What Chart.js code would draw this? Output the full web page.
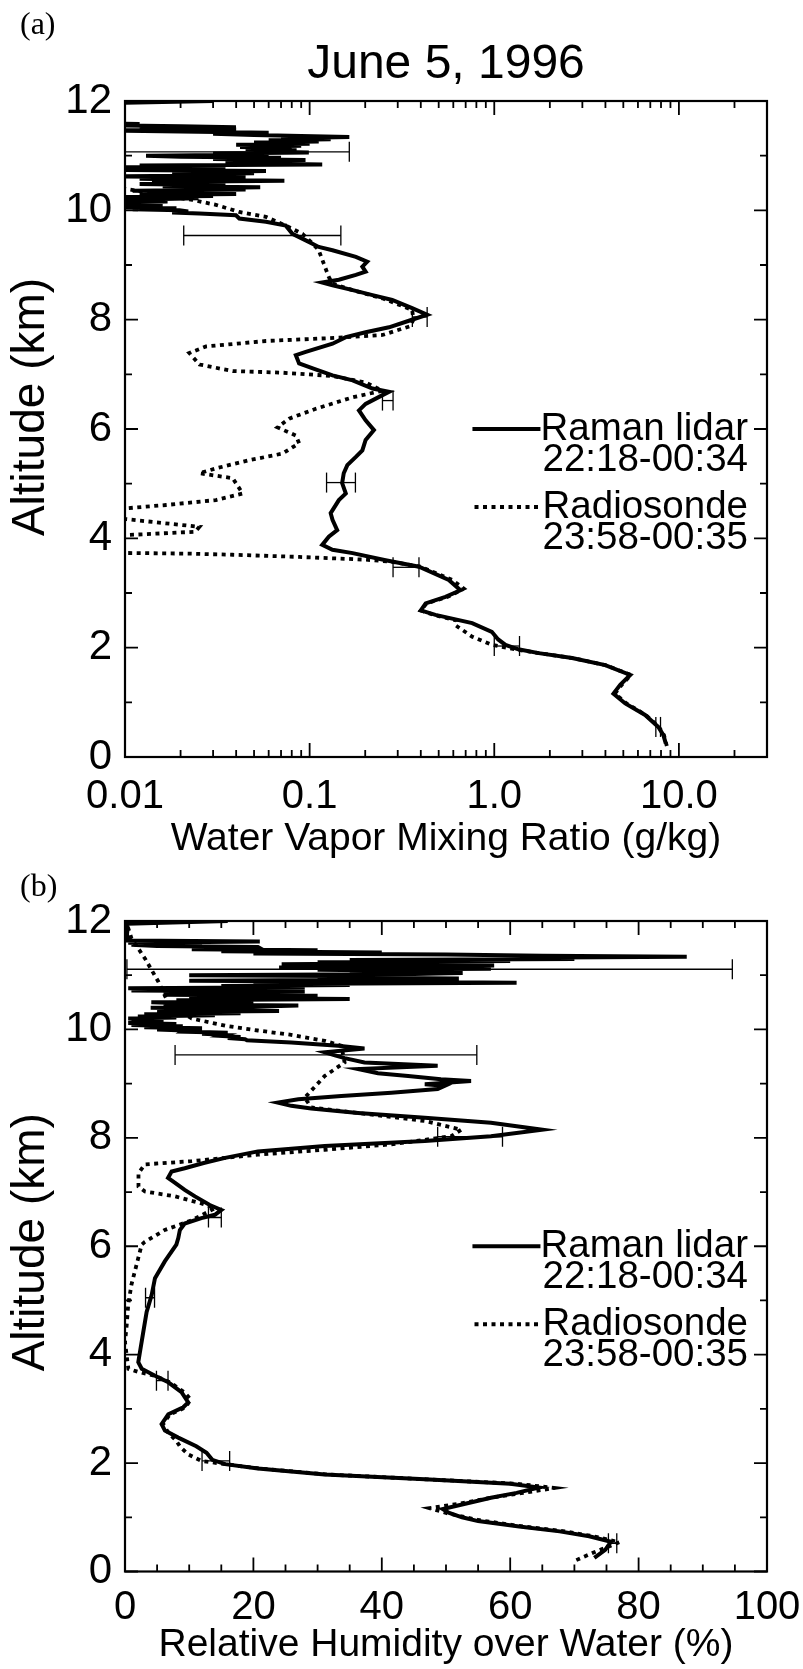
<!DOCTYPE html>
<html lang="en">
<head>
  <meta charset="UTF-8">
  <title>June 5, 1996</title>
  <script src="https://cdn.jsdelivr.net/npm/chart.js"></script>
  <style>
    body { margin: 0; background: #fff; }
    .painel { position: absolute; left: 0; }
  </style>
</head>
<body>
  <canvas id="graficoA" class="painel" width="803" height="863" style="top:0"></canvas>
  <canvas id="graficoB" class="painel" width="803" height="806" style="top:863px"></canvas>

<script>
  // ---- dados ----
  const titulo = 'June 5, 1996';
  const tituloY = 'Altitude (km)';
  const nomes = ['Raman lidar', 'Radiosonde'];
  const horarios = ['22:18-00:34', '23:58-00:35'];

  // (a) razao de mistura (g/kg) x altitude (km)
  const altLidarA = [0.25, 0.40, 0.55, 0.77, 0.98, 1.16, 1.32, 1.50, 1.68, 1.81, 1.90, 1.97, 2.05, 2.15, 2.29, 2.45, 2.60, 2.68, 2.81, 2.93, 3.05, 3.24, 3.48, 3.60, 3.73, 3.79, 3.88, 4.03, 4.15, 4.34, 4.46, 4.70, 4.82, 5.01, 5.19, 5.34, 5.49, 5.61, 5.80, 5.98, 6.16, 6.34, 6.46, 6.62, 6.68, 6.74, 6.89, 6.98, 7.11, 7.20, 7.35, 7.41, 7.56, 7.68, 7.77, 7.86, 7.98, 8.09, 8.21, 8.36, 8.45, 8.54, 8.63, 8.68, 8.73, 8.82, 8.88, 8.97, 9.06, 9.15, 9.27, 9.33, 9.45, 9.57, 9.72, 9.79, 9.85, 9.91,
    9.94, 9.96, 9.98, 10.00, 10.02, 10.04, 10.06, 10.08, 10.10, 10.12, 10.14, 10.16, 10.18, 10.20, 10.22, 10.24, 10.26, 10.28, 10.30, 10.32, 10.34, 10.36, 10.38, 10.40, 10.42, 10.44, 10.46, 10.48, 10.50, 10.52, 10.54, 10.56, 10.58, 10.60, 10.62, 10.64, 10.66, 10.68, 10.70, 10.72, 10.74, 10.76, 10.78, 10.80, 10.82, 10.84, 10.86, 10.88, 10.90, 10.92, 10.94, 10.96, 10.98, 11.00, 11.02, 11.04, 11.06, 11.08, 11.10, 11.12, 11.14, 11.16, 11.18, 11.20, 11.22, 11.24, 11.26, 11.28, 11.30, 11.32, 11.34, 11.36, 11.38, 11.40, 11.42, 11.44, 11.46, 11.48, 11.50, 11.52, 11.54, 11.56, 11.58, 11.60, 11.65, 11.70, 11.80, 11.90, 11.96, 12.0];
  const mixLidarA = [8.49, 8.24, 7.74, 6.56, 5.12, 4.42, 4.81, 5.45, 3.99, 2.64, 1.74, 1.35, 1.15, 1.05, 0.97, 0.759, 0.48, 0.40, 0.425, 0.544, 0.656, 0.567, 0.391, 0.258, 0.171, 0.133, 0.117, 0.127, 0.141, 0.133, 0.130, 0.144, 0.157, 0.150, 0.153, 0.160, 0.178, 0.193, 0.201, 0.223, 0.201, 0.185, 0.201, 0.248, 0.269, 0.219, 0.171, 0.133, 0.104, 0.0877, 0.0842, 0.0953, 0.133, 0.157, 0.201, 0.269, 0.345, 0.433, 0.359, 0.280, 0.219, 0.171, 0.133, 0.117, 0.144, 0.178, 0.201, 0.193, 0.205, 0.178, 0.133, 0.112, 0.0953, 0.0807, 0.0743, 0.058, 0.0416, 0.0399,
    0.0253, 0.018, 0.022, 0.0197, 0.011, 0.019, 0.007, 0.016, 0.006, 0.013, 0.006, 0.017, 0.007, 0.012, 0.025, 0.009, 0.03, 0.012, 0.04, 0.014, 0.03, 0.011, 0.045, 0.02, 0.054, 0.016, 0.035, 0.012, 0.03, 0.014, 0.073, 0.025, 0.012, 0.045, 0.008, 0.04, 0.018, 0.05, 0.025, 0.058, 0.009, 0.035, 0.006, 0.03, 0.012, 0.117, 0.045, 0.08, 0.035, 0.095, 0.03, 0.07, 0.02, 0.013, 0.06, 0.03, 0.099, 0.05, 0.085, 0.045, 0.08, 0.042, 0.09, 0.04, 0.1, 0.05, 0.112, 0.06, 0.13, 0.07, 0.164, 0.09, 0.05, 0.03, 0.06, 0.02, 0.008, 0.04, 0.012, 0.0399, 0.02, 0.005, 0.012, 0.005, 0.008, 0.005, 0.006, 0.005, 0.007, 0.03];
  const altSondaA = [0.20, 0.40, 0.55, 0.77, 0.98, 1.16, 1.32, 1.50, 1.68, 1.81, 1.90, 1.97, 2.05, 2.20, 2.41, 2.50, 2.60, 2.68, 2.81, 2.93, 3.08, 3.24, 3.48, 3.57, 3.61, 3.66, 3.70, 3.72, 3.74, 4.04, 4.06, 4.12, 4.21, 4.35, 4.40, 4.50, 4.55, 4.61, 4.70, 4.82, 5.10, 5.19, 5.28, 5.43, 5.55, 5.74, 5.88, 6.03, 6.19, 6.37, 6.58, 6.70, 6.85, 6.97, 7.03, 7.06, 7.18, 7.39, 7.51, 7.61, 7.67, 7.72, 7.88, 8.00, 8.18, 8.39, 8.54, 8.66, 8.78, 9.27, 9.39, 9.57, 9.72, 9.88, 9.97, 10.10, 10.19, 10.25, 10.35, 10.45, 12.0];
  const mixSondaA = [8.6, 8.3, 7.8, 6.6, 5.2, 4.5, 4.9, 5.5, 4.0, 2.65, 1.74, 1.3, 0.973, 0.76, 0.616, 0.62, 0.47, 0.40, 0.43, 0.56, 0.684, 0.59, 0.40, 0.28, 0.201, 0.0877, 0.0383, 0.0223, 0.006, 0.006, 0.0102, 0.024, 0.0253, 0.0102, 0.006, 0.006, 0.0102, 0.0167, 0.0311, 0.0434, 0.0383, 0.0253, 0.0311, 0.0471, 0.0713, 0.0877, 0.0842, 0.067, 0.0775, 0.108, 0.171, 0.248, 0.201, 0.133, 0.0713, 0.0383, 0.0253, 0.0223, 0.0275, 0.058, 0.144, 0.248, 0.35, 0.365, 0.359, 0.248, 0.171, 0.133, 0.127, 0.112, 0.104, 0.0914, 0.0743, 0.058, 0.0416, 0.0311, 0.0232, 0.0177, 0.012, 0.008, 0.003];
  const errAltA = [0.55, 2.03, 3.47, 5.02, 6.52, 8.05, 9.54, 11.07];
  const errLoA = [7.5, 1.0, 0.283, 0.1235, 0.248, 0.36, 0.0208, 0.008];
  const errHiA = [7.95, 1.37, 0.391, 0.177, 0.283, 0.433, 0.1476, 0.164];

  // (b) umidade relativa (%) x altitude (km)
  const altLidarB = [0.25, 0.40, 0.55, 0.65, 0.74, 0.83, 0.93, 1.00, 1.08, 1.15, 1.25, 1.36, 1.45, 1.55, 1.62, 1.70, 1.79, 1.90, 1.98, 2.06, 2.19, 2.31, 2.47, 2.60, 2.72, 2.90, 3.03, 3.12, 3.31, 3.49, 3.61, 3.74, 3.86, 4.05, 4.42, 4.79, 5.10, 5.41, 5.72, 6.03, 6.15, 6.30, 6.42, 6.52, 6.58, 6.67, 6.76, 6.92, 7.04, 7.17, 7.26, 7.38, 7.44, 7.54, 7.63, 7.75, 7.85, 7.94, 8.03, 8.15, 8.28, 8.37, 8.46, 8.54, 8.59, 8.65, 8.71, 8.77, 8.83, 8.90, 8.96, 8.99, 9.05, 9.08, 9.14, 9.19, 9.27, 9.33, 9.39, 9.47, 9.52, 9.58, 9.65, 9.70,
    9.76, 9.78, 9.80, 9.82, 9.84, 9.86, 9.88, 9.90, 9.92, 9.94, 9.96, 9.98, 10.00, 10.02, 10.04, 10.06, 10.08, 10.10, 10.12, 10.14, 10.16, 10.18, 10.20, 10.22, 10.24, 10.26, 10.28, 10.30, 10.32, 10.34, 10.36, 10.38, 10.40, 10.42, 10.44, 10.46, 10.48, 10.50, 10.52, 10.54, 10.56, 10.58, 10.60, 10.62, 10.64, 10.66, 10.68, 10.70, 10.72, 10.74, 10.76, 10.78, 10.80, 10.82, 10.84, 10.86, 10.88, 10.90, 10.92, 10.94, 10.96, 10.98, 11.00, 11.02, 11.04, 11.06, 11.08, 11.10, 11.12, 11.14, 11.16, 11.18, 11.20, 11.22, 11.24, 11.26, 11.28, 11.30, 11.32, 11.34, 11.36, 11.38, 11.40, 11.42, 11.44, 11.46, 11.48, 11.50, 11.52, 11.54, 11.56, 11.58, 11.60, 11.62, 11.64, 11.68, 11.75, 11.85, 11.95, 12.0];
  const rhLidarB = [73.1, 74.8, 75.7, 72.3, 67.7, 61.4, 55.0, 52.5, 50.5, 49.5, 53, 57, 61, 64.5, 60, 46.7, 31.1, 20.7, 15.6, 13.6, 12.7, 11.1, 8.29, 6.22, 5.70, 6.74, 9.07, 9.85, 8.8, 6.74, 4.67, 2.6, 2.07, 2.33, 2.85, 3.37, 4.15, 4.67, 6.2, 8.0, 8.3, 8.55, 9.3, 11.9, 14.0, 15.0, 13.2, 10.9, 9.3, 7.8, 6.7, 7.26, 9.3, 12.4, 15.6, 20.7, 31.1, 46.7, 57.0, 65.0, 57.0, 46.7, 36.3, 29.0, 25.9, 23.8, 27.0, 33.7, 41.5, 48.7, 49.8, 46.7, 53.9, 49.2, 44.1, 39.4, 36.3, 48.7, 37.3, 34.2, 32.7, 31.1, 37.3, 33.2,
    25.9, 22, 19, 18.7, 16, 18, 15, 15.6, 12, 16, 9, 9.3, 5, 12, 3, 9, 1, 8, 0.5, 6, 1, 4, 0.5, 8, 2, 14, 3, 18, 5, 24, 8, 14, 4, 20, 27, 6, 10, 4.1, 20, 8, 35, 15, 10, 30, 6, 22, 10, 28, 1, 14, 0.5, 28, 15, 35, 20, 61, 40, 10, 45, 52, 30, 40, 10, 45, 52.6, 35, 45, 30, 57, 24, 50, 57.5, 24.4, 45, 30, 60, 35, 70, 60, 87.5, 65, 50, 20, 40, 15, 30, 10.4, 21, 20.7, 5, 1, 12, 0.5, 21, 0.3, 0.5, 0.3, 0.4, 0.3, 16];
  const altSondaB = [0.21, 0.35, 0.54, 0.65, 0.74, 0.83, 0.95, 1.08, 1.17, 1.25, 1.36, 1.45, 1.54, 1.62, 1.70, 1.79, 1.90, 1.98, 2.04, 2.16, 2.30, 2.41, 2.55, 2.72, 2.90, 3.03, 3.18, 3.31, 3.49, 3.61, 3.68, 3.74, 4.23, 4.54, 4.92, 5.29, 5.66, 6.03, 6.08, 6.30, 6.48, 6.70, 6.79, 6.92, 7.01, 7.10, 7.35, 7.51, 7.57, 7.63, 7.69, 7.78, 7.88, 8.03, 8.15, 8.31, 8.46, 8.56, 8.74, 9.14, 9.39, 9.70, 9.79, 9.90, 9.98, 10.07, 10.20, 10.32, 10.50, 10.88, 11.31, 11.68, 11.87, 12.0];
  const rhSondaB = [70.3, 73, 77.0, 73, 68.5, 62, 55, 50, 47.4, 52, 57, 62, 66.9, 61, 47, 31.5, 21, 15.6, 11.9, 9.85, 8.6, 8.0, 6.8, 5.9, 7.0, 9.5, 10.2, 9.2, 7.0, 4.67, 2.1, 0.52, 0.0, 0.26, 0.5, 1.0, 1.8, 2.6, 3.1, 6.2, 10.4, 14.0, 11.9, 7.8, 3.1, 2.1, 2.1, 3.1, 10.4, 15.6, 20.7, 31.1, 41.5, 50.8, 52.4, 46.7, 36.3, 29.0, 28.0, 31.1, 34.2, 33.7, 31.1, 25.9, 20.7, 15.6, 10.4, 8.8, 6.7, 5.2, 3.1, 1.0, 0.5, 0.2];
  const errAltB = [0.52, 2.04, 3.52, 5.05, 6.53, 8.02, 9.53, 11.11];
  const errLoB = [75.3, 12.0, 4.9, 3.2, 13.0, 48.7, 7.8, 0.3];
  const errHiB = [76.6, 16.3, 6.7, 4.6, 15.0, 58.8, 54.8, 94.6];

  // eixos
  const altTicks = [0, 2, 4, 6, 8, 10, 12];
  const altMinor = [1, 3, 5, 7, 9, 11];
  const mixTicks = [0.01, 0.1, 1, 10];
  const mixTickLabels = ['0.01', '0.1', '1.0', '10.0'];
  const mixMinor = [0.02, 0.03, 0.04, 0.05, 0.06, 0.07, 0.08, 0.09, 0.2, 0.3, 0.4, 0.5, 0.6, 0.7, 0.8, 0.9, 2, 3, 4, 5, 6, 7, 8, 9, 20];
  const rhTicks = [0, 20, 40, 60, 80, 100];
  const rhMinor = [5, 10, 15, 25, 30, 35, 45, 50, 55, 65, 70, 75, 85, 90, 95];

  const FONTE = '"Liberation Sans", Arial, Helvetica, sans-serif';
  Chart.defaults.font.family = FONTE;
  Chart.defaults.color = '#000';

  function pares(xs, ys) {
    return ys.map((y, i) => ({ x: xs[i], y: y }));
  }

  // ticks para dentro nos quatro lados + moldura + legenda + rotulos
  const moldura = {
    id: 'moldura',
    afterDraw(chart, args, o) {
      const { ctx, chartArea: a, scales } = chart;
      const sx = scales.x, sy = scales.y;
      ctx.save();
      ctx.strokeStyle = '#000';
      ctx.lineWidth = 1.8;
      ctx.beginPath();
      const tx = (v, len) => {
        const p = sx.getPixelForValue(v);
        ctx.moveTo(p, a.bottom); ctx.lineTo(p, a.bottom - len);
        ctx.moveTo(p, a.top); ctx.lineTo(p, a.top + len);
      };
      const ty = (v, len) => {
        const p = sy.getPixelForValue(v);
        ctx.moveTo(a.left, p); ctx.lineTo(a.left + len, p);
        ctx.moveTo(a.right, p); ctx.lineTo(a.right - len, p);
      };
      o.xMajor.forEach(v => tx(v, 14));
      o.xMinor.forEach(v => tx(v, 7));
      altTicks.forEach(v => ty(v, 13));
      altMinor.forEach(v => ty(v, 7));
      ctx.stroke();
      ctx.lineWidth = 2.2;
      ctx.strokeRect(a.left, a.top, a.right - a.left, a.bottom - a.top);

      // legenda
      const base = sy.getPixelForValue(6);
      const direita = a.right - 19;
      ctx.font = '38.5px ' + FONTE;
      ctx.fillStyle = '#000';
      ctx.textAlign = 'right';
      ctx.textBaseline = 'middle';
      [0, 1].forEach(i => {
        const ds = chart.data.datasets[i];
        const yNome = base + i * 78;
        ctx.fillText(nomes[i], direita, yNome);
        ctx.fillText(horarios[i], direita, yNome + 31);
        const w = ctx.measureText(nomes[i]).width;
        ctx.lineWidth = ds.borderWidth;
        ctx.setLineDash(ds.borderDash || []);
        ctx.beginPath();
        ctx.moveTo(direita - w - 68, yNome);
        ctx.lineTo(direita - w, yNome);
        ctx.stroke();
      });
      ctx.setLineDash([]);

      // titulo do eixo vertical
      ctx.save();
      ctx.translate(31, (a.top + a.bottom) / 2 + o.desvioY);
      ctx.rotate(-Math.PI / 2);
      ctx.font = '46px ' + FONTE;
      ctx.textAlign = 'center';
      ctx.fillText(tituloY, 0, 0);
      ctx.restore();

      ctx.font = '32px "Liberation Serif", "Times New Roman", serif';
      ctx.textAlign = 'left';
      ctx.fillText(o.tag, 20, o.tagY);
      ctx.restore();
    }
  };

  function conjuntos(altL, valL, altS, valS, errAlt, errLo, errHi) {
    const ds = [
      { data: pares(valL, altL), borderColor: '#000', borderWidth: 4, pointRadius: 0, showLine: true, tension: 0 },
      { data: pares(valS, altS), borderColor: '#000', borderWidth: 3.8, borderDash: [4, 4.5], pointRadius: 0, showLine: true, tension: 0 }
    ];
    errAlt.forEach((h, i) => {
      ds.push({
        data: [{ x: errLo[i], y: h }, { x: errHi[i], y: h }],
        borderColor: '#000', borderWidth: 1.3, showLine: true,
        pointStyle: 'line', rotation: 90, pointRadius: 10, pointBorderWidth: 1.3, pointBorderColor: '#000'
      });
    });
    return ds;
  }

  function eixoY(largura) {
    return {
      min: 0, max: 12,
      grid: { display: false, drawTicks: false },
      border: { display: false },
      ticks: { stepSize: 2, padding: 13, font: { size: 42 } },
      title: { display: false },
      afterFit: s => { s.width = largura; s.paddingTop = 0; s.paddingBottom = 0; }
    };
  }

  const opcoesBase = {
    responsive: false,
    animation: false,
    events: [],
    plugins: { legend: { display: false }, tooltip: { enabled: false } }
  };

  // painel (a)
  new Chart(document.getElementById('graficoA'), {
    type: 'scatter',
    data: { datasets: conjuntos(altLidarA, mixLidarA, altSondaA, mixSondaA, errAltA, errLoA, errHiA) },
    options: {
      ...opcoesBase,
      layout: { padding: { left: 0, right: 36, top: 0, bottom: 0 } },
      plugins: {
        ...opcoesBase.plugins,
        title: { display: true, fullSize: false, text: titulo, font: { size: 48, weight: 'normal', lineHeight: 1.2 }, padding: { top: 36, bottom: 7.4 } },
        moldura: { xMajor: mixTicks, xMinor: mixMinor, tag: '(a)', tagY: 26, desvioY: -22 }
      },
      scales: {
        x: {
          type: 'logarithmic', min: 0.01, max: 30,
          grid: { display: false, drawTicks: false },
          border: { display: false },
          afterBuildTicks: s => { s.ticks = mixTicks.map(v => ({ value: v })); },
          ticks: { padding: 16, font: { size: 40 }, maxRotation: 0, autoSkip: false, callback: (v, i) => mixTickLabels[i] },
          title: { display: true, text: 'Water Vapor Mixing Ratio (g/kg)', font: { size: 39 }, padding: { top: 0, bottom: 0 } },
          afterFit: s => { s.height = 106; s.paddingLeft = 0; s.paddingRight = 0; }
        },
        y: eixoY(125)
      }
    },
    plugins: [moldura]
  });

  // painel (b)
  new Chart(document.getElementById('graficoB'), {
    type: 'scatter',
    data: { datasets: conjuntos(altLidarB, rhLidarB, altSondaB, rhSondaB, errAltB, errLoB, errHiB) },
    options: {
      ...opcoesBase,
      layout: { padding: { left: 0, right: 36, top: 58, bottom: 0 } },
      plugins: {
        ...opcoesBase.plugins,
        moldura: { xMajor: [20, 40, 60, 80], xMinor: rhMinor, tag: '(b)', tagY: 25, desvioY: -4 }
      },
      scales: {
        x: {
          type: 'linear', min: 0, max: 100,
          grid: { display: false, drawTicks: false },
          border: { display: false },
          ticks: { stepSize: 20, padding: 12, font: { size: 40 }, maxRotation: 0, autoSkip: false },
          title: { display: true, text: 'Relative Humidity over Water (%)', font: { size: 39 }, padding: { top: 0, bottom: 0 } },
          afterFit: s => { s.height = 97.5; s.paddingLeft = 0; s.paddingRight = 0; }
        },
        y: eixoY(125)
      }
    },
    plugins: [moldura]
  });
</script>
</body>
</html>
